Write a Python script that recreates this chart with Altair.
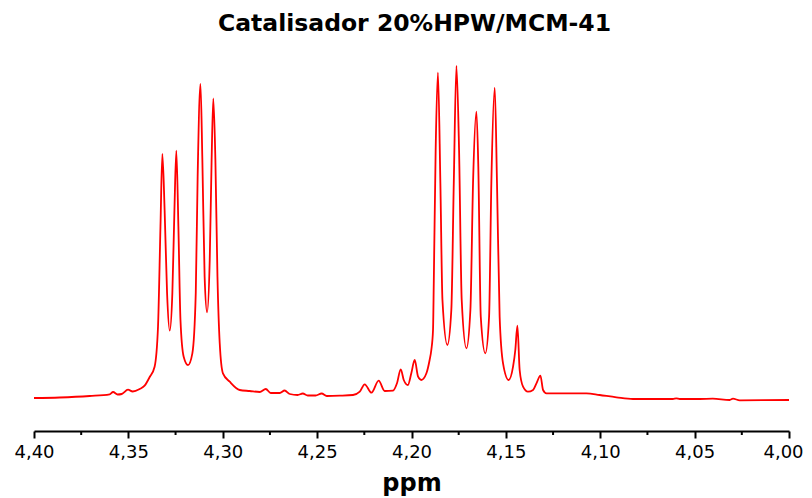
import altair as alt
import pandas as pd

# Chemical shift (ppm) and intensity (arbitrary units)
ppm = [4.4000, 4.3864, 4.3705, 4.3599, 4.3581, 4.3557, 4.3535, 4.3502, 4.3477, 4.3440,
       4.3414, 4.3387, 4.3361, 4.3343, 4.3330, 4.3320, 4.3308, 4.3295, 4.3281, 4.3267,
       4.3256, 4.3246, 4.3235, 4.3224, 4.3207, 4.3184, 4.3161, 4.3143, 4.3133, 4.3118,
       4.3108, 4.3096, 4.3083, 4.3069, 4.3059, 4.3050, 4.3039, 4.3028, 4.3016, 4.2999,
       4.2963, 4.2910, 4.2857, 4.2804, 4.2772, 4.2746, 4.2698, 4.2672, 4.2645, 4.2603,
       4.2576, 4.2550, 4.2508, 4.2476, 4.2449, 4.2380, 4.2310, 4.2274, 4.2248, 4.2212,
       4.2174, 4.2142, 4.2098, 4.2077, 4.2057, 4.2041, 4.2019, 4.2001, 4.1983, 4.1965,
       4.1948, 4.1921, 4.1904, 4.1895, 4.1886, 4.1882, 4.1872, 4.1860, 4.1847, 4.1836,
       4.1810, 4.1789, 4.1776, 4.1762, 4.1748, 4.1734, 4.1709, 4.1688, 4.1674, 4.1656,
       4.1646, 4.1633, 4.1609, 4.1589, 4.1577, 4.1559, 4.1547, 4.1533, 4.1515, 4.1485,
       4.1462, 4.1450, 4.1439, 4.1427, 4.1409, 4.1383, 4.1356, 4.1338, 4.1317, 4.1303,
       4.1285, 4.1179, 4.1073, 4.1003, 4.0914, 4.0827, 4.0615, 4.0597, 4.0579, 4.0473,
       4.0404, 4.0314, 4.0297, 4.0261, 4.0000]
intensity = [33.0, 33.5, 35.0, 36.7, 39.0, 36.5, 37.0, 41.3, 39.5, 42.0,
             45.3, 54.0, 64.3, 104.3, 204.3, 277.0, 221.0, 138.0, 100.3, 138.0,
             221.0, 280.3, 204.3, 111.0, 74.3, 66.0, 77.7, 138.0, 254.3, 347.0,
             271.0, 154.3, 118.7, 171.0, 271.0, 332.7, 271.0, 154.3, 87.7, 57.7,
             49.3, 41.0, 40.0, 39.0, 42.0, 38.0, 38.0, 40.5, 37.0, 36.0,
             37.5, 35.5, 35.5, 37.5, 35.0, 35.3, 36.0, 39.3, 46.7, 38.3,
             50.3, 40.0, 40.3, 47.7, 61.7, 51.0, 46.0, 57.7, 71.0, 54.3,
             51.0, 57.7, 71.0, 81.0, 101.0, 147.7, 281.0, 358.3, 247.7, 131.0,
             86.0, 121.0, 247.7, 365.0, 281.0, 131.0, 82.7, 121.0, 247.7, 319.3,
             264.3, 114.3, 77.7, 114.3, 247.7, 343.3, 247.7, 114.3, 67.7, 51.0,
             64.3, 81.0, 105.3, 61.0, 44.3, 39.3, 41.0, 47.7, 55.3, 41.0,
             37.7, 37.7, 37.7, 36.0, 33.7, 32.0, 32.0, 32.7, 32.0, 32.0,
             32.3, 31.0, 32.3, 30.7, 31.0]

major_ticks = [4.40, 4.35, 4.30, 4.25, 4.20, 4.15, 4.10, 4.05, 4.00]
minor_ticks = [4.375, 4.325, 4.275, 4.225, 4.175, 4.125, 4.075, 4.025]

spec = pd.DataFrame({"ppm": ppm, "I": intensity})
minor = pd.DataFrame({"m": minor_ticks})

W, H = 755, 391

xscale = alt.Scale(domain=[4.00, 4.40], reverse=True, nice=False, zero=False)

line = alt.Chart(spec).mark_line(color="#ff0000", strokeWidth=1.8, interpolate="monotone").encode(
    x=alt.X("ppm:Q", scale=xscale,
            axis=alt.Axis(values=major_ticks, tickSize=7, tickWidth=2, tickColor="black",
                          domainColor="black", domainWidth=2, grid=False,
                          labelExpr="replace(format(datum.value, '.2f'), '.', ',')",
                          labelFont="DejaVu Sans", labelFontSize=18, labelColor="black",
                          labelPadding=5, labelOverlap=False, labelFlush=False,
                          labelOffset={"condition": {"test": "datum.value < 4.001", "value": -6},
                                       "value": 0},
                          title="ppm", titleFont="DejaVu Sans", titleFontSize=24,
                          titleFontWeight="bold", titleColor="black", titlePadding=10)),
    y=alt.Y("I:Q", scale=alt.Scale(domain=[0, H]), axis=None),
)

minor_rules = alt.Chart(minor).mark_rule(color="black", strokeWidth=2).encode(
    x=alt.X("m:Q", scale=xscale),
    y=alt.value(H),
    y2=alt.value(H + 4),
)

chart = alt.layer(line, minor_rules).properties(
    width=W, height=H,
    title=alt.TitleParams("Catalisador 20%HPW/MCM-41", font="DejaVu Sans", fontSize=23.5,
                          fontWeight="bold", color="black", anchor="middle",
                          baseline="alphabetic", offset=8, dx=3, dy=22),
    autosize=alt.AutoSizeParams(type="none"),
    padding={"left": 26, "top": 32, "right": 15, "bottom": 65},
).configure_view(stroke=None)

chart.save("out.html", embed_options={"renderer": "svg", "actions": False})
